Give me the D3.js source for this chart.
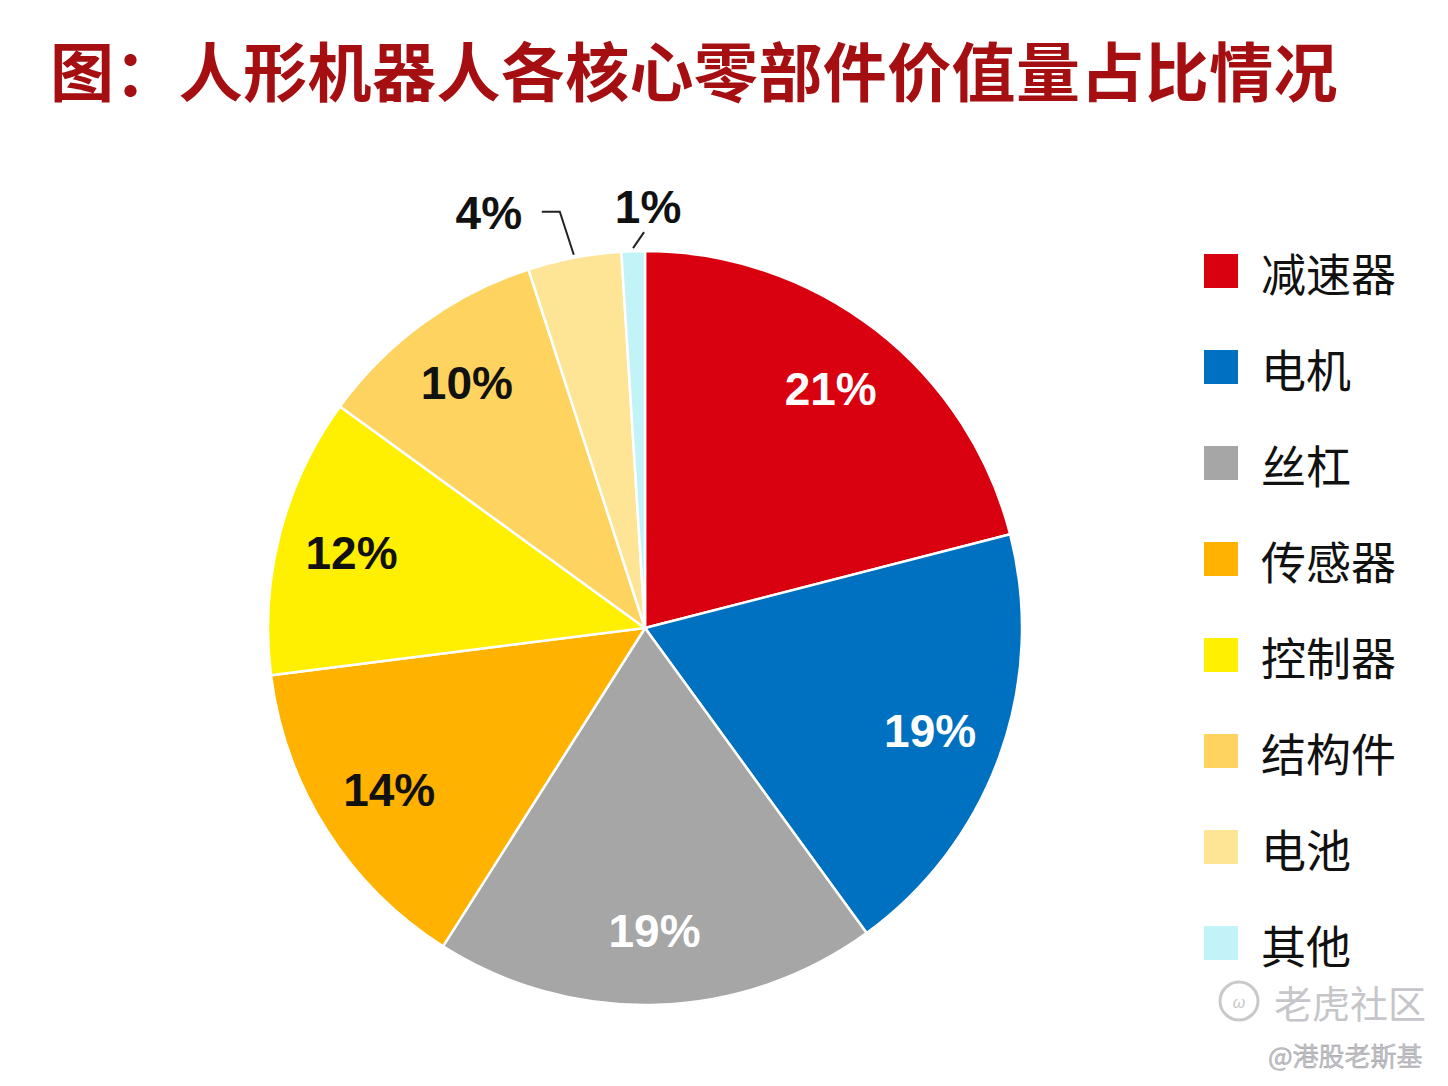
<!DOCTYPE html>
<html>
<head>
<meta charset="utf-8">
<script src="https://cdn.jsdelivr.net/npm/d3@7"></script>
<style>
  body { margin: 0; background: #fff; }
  svg { display: block; }
</style>
</head>
<body>
<svg width="1448" height="1086"></svg>
<script>
// 各部件与占比 (%)
const parts = ['减速器', '电机', '丝杠', '传感器', '控制器', '结构件', '电池', '其他']
const shares = [21, 19, 19, 14, 12, 10, 4, 1]
const colors = ['#d9000f', '#0070c0', '#a6a6a6', '#ffb300', '#ffef00', '#fed35f', '#fee595', '#c2f3f6']
// 标签文字颜色 (白字 / 黑字)
const labelColors = ['#fff', '#fff', '#fff', '#111', '#111', '#111', '#111', '#111']

const cx = 645
const cy = 628
const radius = 377

const svg = d3.select('svg')

// 标题
svg.append('text')
  .attr('x', 50)
  .attr('y', 68)
  .attr('dominant-baseline', 'central')
  .attr('font-family', '"Noto Sans CJK SC", sans-serif')
  .attr('font-weight', 'bold')
  .attr('font-size', 64)
  .attr('letter-spacing', 0.4)
  .attr('fill', '#a50f12')
  .text('图：人形机器人各核心零部件价值量占比情况')

const data = parts.map((p, i) => ({ name: p, value: shares[i], color: colors[i], labelColor: labelColors[i] }))

const pie = d3.pie().sort(null).value(d => d.value)
const arcs = pie(data)

const arc = d3.arc().innerRadius(0).outerRadius(radius)
const labelArc = d3.arc().innerRadius(303).outerRadius(303)
const edgeArc = d3.arc().innerRadius(radius + 3).outerRadius(radius + 3)

const g = svg.append('g').attr('transform', `translate(${cx},${cy})`)

g.selectAll('path')
  .data(arcs)
  .enter()
  .append('path')
  .attr('d', arc)
  .attr('fill', d => d.data.color)
  .attr('stroke', '#fff')
  .attr('stroke-width', 2.5)

// 大块的标签放在扇形内部
const inside = arcs.filter(d => d.data.value >= 10)
g.selectAll('text.in')
  .data(inside)
  .enter()
  .append('text')
  .attr('class', 'in')
  .attr('transform', d => `translate(${labelArc.centroid(d)})`)
  .attr('text-anchor', 'middle')
  .attr('dominant-baseline', 'central')
  .attr('font-family', '"Liberation Sans", Arial, sans-serif')
  .attr('font-weight', 'bold')
  .attr('font-size', 46)
  .attr('fill', d => d.data.labelColor)
  .text(d => d.data.value + '%')

// 小块 (4%, 1%) 用引导线放外面
const outside = arcs.filter(d => d.data.value < 10)
outside.forEach(d => {
  const p0 = edgeArc.centroid(d)
  let pts, tx, ty
  if (d.data.value >= 4) {
    const p1 = [p0[0] - 14, p0[1] - 43]
    const p2 = [p1[0] - 18, p1[1]]
    pts = [p0, p1, p2]
    tx = p2[0] - 53
    ty = p2[1] + 1
  } else {
    const p1 = [p0[0] + 11, p0[1] - 16]
    pts = [p0, p1]
    tx = p1[0] + 4
    ty = p1[1] - 25
  }
  g.append('path')
    .attr('d', d3.line()(pts))
    .attr('fill', 'none')
    .attr('stroke', '#222')
    .attr('stroke-width', 2)
  g.append('text')
    .attr('x', tx)
    .attr('y', ty)
    .attr('text-anchor', 'middle')
    .attr('dominant-baseline', 'central')
    .attr('font-family', '"Liberation Sans", Arial, sans-serif')
    .attr('font-weight', 'bold')
    .attr('font-size', 46)
    .attr('fill', '#111')
    .text(d.data.value + '%')
})

// 图例
const legendY = d3.scalePoint().domain(parts).range([271, 943])
const legend = svg.append('g')
legend.selectAll('rect')
  .data(data)
  .enter()
  .append('rect')
  .attr('x', 1204)
  .attr('y', d => legendY(d.name) - 17)
  .attr('width', 34)
  .attr('height', 34)
  .attr('fill', d => d.color)
legend.selectAll('text')
  .data(data)
  .enter()
  .append('text')
  .attr('x', 1261)
  .attr('y', d => legendY(d.name) + 1)
  .attr('dominant-baseline', 'central')
  .attr('font-family', '"Noto Sans CJK SC", sans-serif')
  .attr('font-size', 45)
  .attr('fill', '#111')
  .text(d => d.name)

// 水印
const wm = svg.append('g')
wm.append('circle')
  .attr('cx', 1239).attr('cy', 1001).attr('r', 19)
  .attr('fill', 'none').attr('stroke', '#c9c9cc').attr('stroke-width', 3)
wm.append('text')
  .attr('x', 1239).attr('y', 1002)
  .attr('text-anchor', 'middle').attr('dominant-baseline', 'central')
  .attr('font-family', '"Liberation Sans", sans-serif').attr('font-size', 16)
  .attr('font-style', 'italic')
  .attr('fill', '#c9c9cc')
  .text('ω')
wm.append('text')
  .attr('x', 1274).attr('y', 1001)
  .attr('dominant-baseline', 'central')
  .attr('font-family', '"Noto Sans CJK SC", sans-serif')
  .attr('font-size', 38)
  .attr('fill', '#c6c6ca')
  .text('老虎社区')
wm.append('text')
  .attr('x', 1268).attr('y', 1054)
  .attr('dominant-baseline', 'central')
  .attr('font-family', '"Noto Sans CJK SC", sans-serif')
  .attr('font-size', 26)
  .attr('fill', '#c2c2c6')
  .attr('stroke', '#9a9a9e').attr('stroke-width', 0.4)
  .text('@港股老斯基')
</script>
</body>
</html>
